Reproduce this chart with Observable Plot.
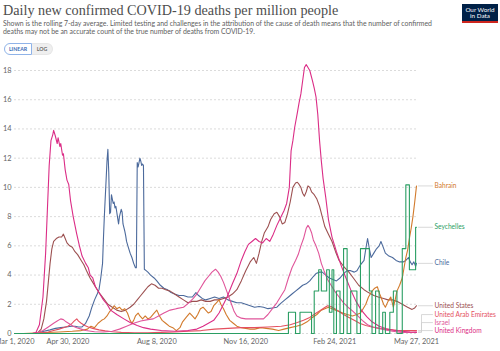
<!DOCTYPE html>
<html><head><meta charset="utf-8">
<script src="https://cdn.jsdelivr.net/npm/d3@7"></script>
<script src="https://cdn.jsdelivr.net/npm/@observablehq/plot@0.6"></script>
<style>
html,body{margin:0;padding:0;background:#fff;width:500px;height:351px;overflow:hidden;position:relative;font-family:Lato,sans-serif;}
#title{position:absolute;left:3px;top:2px;font-family:"Liberation Serif",serif;font-size:14.2px;color:#4d4d4d;white-space:nowrap;}
#subtitle{position:absolute;left:3px;top:19px;font-size:6.92px;line-height:8px;color:#5e5e5e;white-space:nowrap;}
#buttons{position:absolute;left:4px;top:43px;display:flex;}
.btn{height:10px;line-height:10px;font-size:5.2px;font-weight:bold;text-align:center;box-sizing:content-box;}
#lin{width:26px;border:1px solid #8fb3e8;border-radius:6px 0 0 6px;color:#3a6bb5;background:#fff;}
#log{width:20px;border:1px solid #e6e6e6;border-left:none;border-radius:0 6px 6px 0;color:#6b6b6b;background:#efefef;}
#logo{position:absolute;left:462px;top:4px;width:36px;height:19px;background:#002147;color:#fff;font-size:6.3px;line-height:6.6px;text-align:center;box-sizing:border-box;padding-top:2.5px;}
#logo .bar{position:absolute;left:0;bottom:0;width:36px;height:2px;background:#ce261e;}
#chart{position:absolute;left:0;top:58px;}
</style></head>
<body>
<div id="title">Daily new confirmed COVID-19 deaths per million people</div>
<div id="subtitle">Shown is the rolling 7-day average. Limited testing and challenges in the attribution of the cause of death means that the number of confirmed<br>deaths may not be an accurate count of the true number of deaths from COVID-19.</div>
<div id="buttons"><div class="btn" id="lin">LINEAR</div><div class="btn" id="log">LOG</div></div>
<div id="logo">Our World<br>in Data<div class="bar"></div></div>
<div id="chart"></div>
<script>
// day offsets are days since 2020-03-01; values are deaths per million (7-day avg)
const countries = ["Chile","United States","Bahrain","United Arab Emirates","Israel","United Kingdom","Seychelles"];
const colors = ["#4c6a9c","#9c5050","#d27a2c","#e4505f","#e0559a","#db2d86","#2a9e63"];
const xTickDays = [0,60,160,260,360,452];
const yTicks = [0,2,4,6,8,10,12,14,16,18];

const chileData = [[0,0],[18,0],[25,0.02],[33,0.15],[40,0.25],[46,0.35],[52,0.4],[58,0.45],[64,0.5],[68,0.5],[72,0.45],[76,0.45],[80,0.7],[84,1.2],[87,1.8],[90,2.3],[93,2.7],[95,3.0],[97,3.8],[99,4.8],[100,6.5],[101,8.0],[103,10.5],[104,11.8],[105,12.6],[106,11.0],[107,8.2],[108,8.3],[109,9.5],[110,9.2],[111,8.9],[112,9.0],[113,8.6],[114,8.7],[115,8.3],[116,7.9],[117,7.5],[118,8.0],[120,8.5],[121,8.3],[122,7.5],[124,7.0],[125,6.7],[126,6.3],[128,5.9],[130,5.5],[132,5.2],[134,4.8],[136,4.5],[137,4.5],[138,11.7],[139,11.4],[140,11.7],[141,12.0],[142,11.8],[143,11.5],[144,11.6],[145,11.5],[146,4.4],[148,4.3],[150,4.2],[153,4.0],[157,3.8],[160,3.6],[164,3.3],[168,3.1],[172,3.0],[176,2.8],[180,2.7],[185,2.6],[190,2.6],[195,2.5],[200,2.5],[204,2.8],[207,2.6],[211,2.4],[215,2.3],[220,2.4],[225,2.5],[230,2.4],[235,2.5],[240,2.3],[245,2.2],[250,2.1],[255,2.1],[260,2.0],[265,1.9],[270,1.8],[275,1.85],[280,1.8],[285,1.7],[290,1.75],[295,1.8],[300,2.1],[304,2.3],[308,2.5],[312,2.7],[316,2.9],[320,3.1],[324,3.3],[328,3.4],[332,3.6],[336,3.9],[339,4.1],[343,4.2],[346,4.2],[350,4.0],[354,3.8],[358,3.7],[362,3.6],[366,3.8],[370,4.1],[374,4.3],[378,4.3],[382,4.2],[385,4.3],[389,4.7],[393,5.0],[395,5.8],[397,6.5],[399,5.8],[401,5.2],[404,5.5],[407,5.8],[410,6.0],[412,6.3],[414,6.0],[417,5.5],[421,5.3],[425,5.2],[429,5.0],[433,4.9],[437,4.9],[440,5.0],[443,5.2],[445,4.9],[447,4.7],[449,4.9],[451,4.6],[452,4.8]];

const usData = [[0,0],[20,0],[26,0.05],[30,0.3],[33,1.0],[36,2.2],[38,3.5],[40,4.8],[42,5.8],[44,6.3],[47,6.5],[50,6.6],[53,6.6],[55,6.8],[57,6.5],[59,6.2],[62,6.0],[65,5.9],[68,5.6],[71,5.4],[75,5.0],[78,4.7],[81,4.3],[85,3.8],[88,3.5],[91,3.2],[95,2.8],[100,2.4],[105,2.0],[110,1.8],[115,1.6],[120,1.5],[125,1.6],[130,1.8],[134,2.0],[138,2.3],[142,2.6],[146,2.9],[150,3.2],[154,3.4],[158,3.3],[162,3.1],[166,3.1],[170,3.0],[175,2.9],[180,2.7],[185,2.5],[190,2.3],[195,2.1],[200,2.2],[205,2.2],[210,2.3],[215,2.2],[220,2.2],[225,2.3],[230,2.3],[235,2.4],[240,2.5],[245,2.7],[250,3.0],[255,3.6],[260,4.3],[265,4.9],[269,5.2],[272,4.8],[275,5.5],[278,6.3],[281,6.9],[285,7.3],[288,7.8],[292,8.2],[295,8.3],[298,8.0],[301,7.5],[304,7.6],[307,8.2],[310,9.0],[313,10.0],[316,10.3],[318,10.35],[320,10.2],[322,10.0],[324,9.6],[326,9.4],[328,9.7],[330,10.1],[332,10.0],[334,9.7],[337,9.5],[340,9.2],[343,8.7],[346,8.0],[349,7.3],[353,6.8],[357,6.3],[361,5.6],[365,5.0],[370,4.6],[376,4.2],[381,3.8],[387,3.3],[393,3.0],[398,2.8],[404,2.6],[409,2.5],[415,2.4],[420,2.3],[425,2.3],[430,2.2],[436,2.0],[442,1.8],[447,1.65],[450,1.75],[452,1.9]];

const bahrainData = [[0,0],[10,0],[30,0.05],[50,0.1],[65,0.15],[75,0.2],[82,0.3],[86,0.5],[90,0.4],[94,0.7],[98,0.9],[101,1.0],[104,1.2],[107,1.5],[110,1.7],[112,1.9],[115,1.7],[118,1.8],[121,1.6],[124,1.7],[127,1.4],[130,0.9],[132,0.7],[134,0.9],[136,1.2],[139,1.4],[141,1.2],[144,1.0],[147,1.2],[150,1.0],[153,1.1],[157,1.4],[160,1.6],[163,1.2],[166,0.9],[170,0.7],[174,0.5],[178,0.4],[182,0.2],[186,0.4],[189,0.8],[193,1.1],[197,1.4],[200,1.2],[203,1.0],[206,1.3],[209,1.7],[212,1.8],[215,1.6],[218,1.4],[221,1.5],[224,1.9],[227,2.1],[230,2.3],[232,2.0],[235,1.7],[238,1.3],[242,0.9],[246,0.7],[250,0.5],[255,0.4],[260,0.35],[265,0.3],[270,0.3],[277,0.4],[283,0.35],[290,0.3],[297,0.2],[303,0.3],[310,0.4],[317,0.5],[323,0.6],[329,0.8],[335,1.1],[340,1.3],[345,1.6],[349,1.7],[353,1.8],[357,1.7],[361,1.6],[365,1.5],[369,1.4],[374,1.3],[380,1.2],[385,1.3],[389,1.4],[392,1.7],[395,2.0],[398,2.5],[402,2.9],[405,3.1],[408,3.2],[410,2.8],[412,2.5],[415,2.0],[417,1.8],[420,2.2],[423,2.5],[426,1.8],[428,2.3],[430,2.9],[433,3.3],[436,3.8],[438,4.5],[440,5.2],[442,5.7],[444,6.5],[446,7.2],[448,8.0],[450,9.0],[452,10.1]];

const uaeData = [[0,0],[22,0],[30,0.05],[38,0.1],[44,0.2],[50,0.3],[55,0.4],[60,0.5],[64,0.65],[67,0.85],[70,1.0],[72,0.85],[75,0.7],[79,0.55],[83,0.45],[88,0.35],[95,0.25],[102,0.18],[110,0.12],[120,0.08],[135,0.05],[150,0.05],[165,0.08],[180,0.1],[195,0.15],[210,0.2],[225,0.3],[240,0.35],[255,0.4],[270,0.4],[285,0.45],[300,0.5],[310,0.6],[318,0.75],[325,0.9],[332,1.1],[338,1.35],[343,1.55],[348,1.75],[352,1.9],[356,1.85],[360,1.7],[365,1.5],[370,1.3],[376,1.1],[382,0.9],[388,0.7],[395,0.55],[402,0.45],[410,0.35],[420,0.28],[430,0.22],[440,0.2],[452,0.2]];

const israelData = [[0,0],[20,0],[26,0.05],[32,0.2],[38,0.45],[44,0.7],[48,0.85],[52,1.0],[55,0.95],[58,0.8],[62,0.65],[66,0.5],[70,0.4],[75,0.3],[80,0.2],[90,0.12],[100,0.1],[110,0.15],[118,0.3],[126,0.5],[134,0.7],[142,0.85],[150,0.95],[156,1.0],[162,1.2],[168,1.4],[175,1.6],[182,1.7],[190,1.8],[196,2.1],[201,2.4],[205,2.7],[210,3.2],[214,3.6],[218,3.9],[222,4.2],[226,4.4],[229,4.2],[232,3.9],[235,3.5],[238,3.0],[241,2.5],[244,2.0],[247,1.5],[250,1.2],[255,1.05],[260,1.0],[265,1.0],[272,1.0],[280,1.0],[285,1.3],[290,1.7],[295,2.1],[300,2.6],[304,3.0],[308,3.8],[312,4.5],[316,5.0],[319,5.4],[322,6.0],[325,6.5],[328,7.2],[330,7.4],[332,7.2],[334,6.9],[336,6.4],[339,6.0],[342,5.5],[345,4.8],[348,4.3],[352,3.7],[356,3.3],[360,2.9],[365,2.5],[370,2.1],[375,1.8],[380,1.55],[386,1.2],[391,0.9],[397,0.6],[403,0.45],[410,0.35],[417,0.25],[425,0.15],[435,0.08],[445,0.07],[452,0.1]];

const ukData = [[0,0],[20,0],[24,0.05],[28,0.6],[32,2.5],[35,5.5],[37,8.5],[39,11.5],[41,13.2],[43,13.6],[44,13.9],[46,13.5],[48,13.0],[49,13.4],[51,12.8],[52,13.0],[54,12.2],[55,12.3],[57,11.2],[59,10.5],[61,10.2],[63,9.1],[66,8.0],[70,6.8],[73,6.0],[76,5.3],[80,4.8],[83,4.5],[85,4.0],[88,3.8],[91,3.2],[95,2.8],[100,2.3],[104,2.0],[108,1.6],[115,1.3],[123,1.0],[130,0.75],[138,0.55],[145,0.4],[153,0.3],[165,0.2],[180,0.15],[195,0.2],[205,0.3],[212,0.5],[218,0.7],[224,0.9],[230,1.4],[235,2.0],[239,2.5],[245,3.4],[250,4.1],[255,5.0],[259,5.6],[263,6.1],[267,6.3],[271,6.5],[275,6.3],[279,6.2],[283,6.5],[287,6.3],[291,6.8],[295,7.4],[299,7.9],[303,8.4],[306,8.9],[309,10.0],[311,12.5],[313,13.2],[315,14.1],[318,15.1],[320,15.8],[322,16.4],[324,17.3],[326,18.2],[328,18.4],[330,18.2],[332,18.0],[335,17.3],[337,16.8],[339,16.2],[341,15.0],[343,13.2],[345,11.8],[347,10.6],[350,9.3],[353,7.8],[357,6.6],[362,5.6],[367,4.7],[372,3.9],[378,3.0],[384,2.2],[390,1.6],[396,1.15],[402,0.8],[410,0.5],[418,0.33],[426,0.22],[435,0.15],[445,0.1],[452,0.08]];

const seychellesData = [[0,0],[308,1.45],[316,0],[321,1.45],[334,0],[337,2.91],[342,4.36],[345,2.91],[351,4.36],[354,1.45],[357,4.36],[359,0],[362,2.91],[366,0],[370,5.81],[374,0],[378,2.91],[385,0],[389,5.81],[399,2.91],[402,0],[406,2.91],[410,0],[414,1.45],[417,0],[422,1.45],[426,2.91],[430,0],[436,5.81],[440,10.17],[444,4.36],[451,7.27],[452,7.27]];

const seriesData = [chileData, usData, bahrainData, uaeData, israelData, ukData, seychellesData];

const START = Date.UTC(2020, 2, 1);
const toDate = d => new Date(START + d * 864e5);

const W = 500, H = 293, ML = 14, MR = 84, MT = 12, MB = 18;
const endDay = 452;
const ppd = (W - ML - MR) / endDay;

const rows = [];
seriesData.forEach((s, i) => s.forEach(([d, v]) => rows.push({country: countries[i], date: toDate(d), value: v})));
const colorOf = Object.fromEntries(countries.map((c, i) => [c, colors[i]]));

// label placement (avoid overlaps)
const ends = countries.map((c, i) => ({country: c, end: seriesData[i][seriesData[i].length - 1][1]}));
ends.sort((a, b) => a.end - b.end);
const gap = 8 / ((H - MT - MB) / 18);
let prev = -Infinity;
for (const e of ends) { e.ly = Math.max(e.end, prev + gap, 0.2); prev = e.ly; }

const conn = [];
for (const e of ends) {
  const x0 = toDate(endDay + 2 / ppd), x1 = toDate(endDay + 5 / ppd), x2 = toDate(endDay + 16 / ppd);
  if (Math.abs(e.ly - e.end) < 1e-6) {
    conn.push({country: e.country, date: x0, value: e.end}, {country: e.country, date: x2, value: e.ly});
  } else {
    conn.push({country: e.country, date: x0, value: e.end}, {country: e.country, date: x1, value: e.end},
              {country: e.country, date: x1, value: e.ly}, {country: e.country, date: x2, value: e.ly});
  }
}
const labels = ends.map(e => ({country: e.country, date: toDate(endDay + 18 / ppd), value: e.ly}));

const marks = [
  Plot.ruleY(yTicks, {stroke: "#d2d2d2", strokeDasharray: "2,2", strokeWidth: 0.8})
];
countries.forEach((c, i) => {
  marks.push(Plot.line(rows.filter(r => r.country === c), {
    x: "date", y: "value", stroke: colors[i], strokeWidth: 1.1,
    curve: c === "Seychelles" ? "step-after" : "linear"
  }));
});
marks.push(Plot.line(conn, {x: "date", y: "value", z: "country", stroke: "#cfcfcf", strokeWidth: 0.8}));
marks.push(Plot.text(labels, {x: "date", y: "value", text: "country", textAnchor: "start",
  fill: d => colorOf[d.country], fontSize: 6.6, fontFamily: "Lato"}));

const chart = Plot.plot({
  width: W, height: H,
  marginLeft: ML, marginRight: MR, marginTop: MT, marginBottom: MB,
  style: {fontFamily: "Lato", fontSize: "7.4px", color: "#666", background: "white", overflow: "visible"},
  x: {type: "utc", domain: [toDate(0), toDate(endDay)], ticks: xTickDays.map(toDate),
      tickFormat: d3.utcFormat("%b %-d, %Y"), tickSize: 0, tickPadding: 5.5, label: null},
  y: {domain: [0, 18], ticks: yTicks, tickSize: 0, tickPadding: 3, label: null},
  marks
});
document.getElementById("chart").appendChild(chart);
</script>
</body></html>
